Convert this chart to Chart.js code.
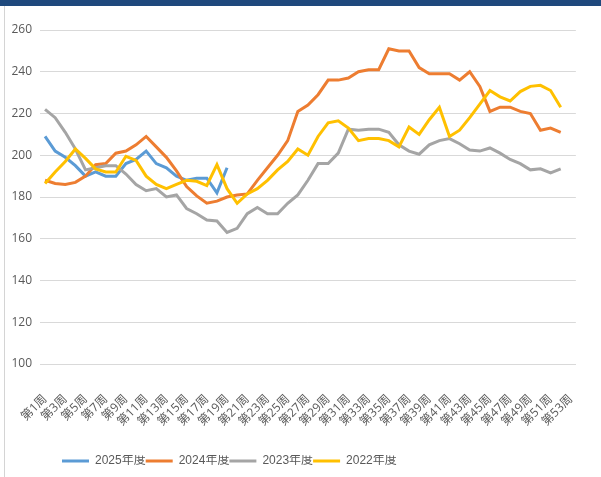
<!DOCTYPE html>
<html>
<head>
<meta charset="utf-8">
<script src="https://cdn.jsdelivr.net/npm/chart.js@4"></script>
<style>
    html, body { margin: 0; padding: 0; background: #fff; }
    #wrap { position: relative; width: 601px; height: 477px; }
    #topbar { position: absolute; left: 0; top: 0; width: 601px; height: 6px; background: #1f497d; }
    #edge { position: absolute; left: 4px; top: 6px; width: 1px; height: 471px; background: #d4d4d4; }
    canvas { position: absolute; left: 0; top: 0; }
</style>
</head>
<body>
<div id="wrap">
    <canvas id="chart" width="601" height="477"></canvas>
    <div id="topbar"></div>
    <div id="edge"></div>
</div>
<script>
// ── Data ────────────────────────────────────────────────
const weeks = Array.from({ length: 53 }, (_, i) => `第${i + 1}周`);
const yTicks = [100, 120, 140, 160, 180, 200, 220, 240, 260];

const seriesNames = ['2025年度', '2024年度', '2023年度', '2022年度'];
const seriesColors = ['#5b9bd5', '#ed7d31', '#a5a5a5', '#ffc000'];

const y2025 = [209, 202, 199, 195, 190, 192, 190, 190, 196, 198,
               202, 196, 194, 190, 188, 189, 189, 182, 194];
const y2024 = [188, 186.5, 186, 187, 190, 195.5, 196, 201, 202, 205,
               209, 204, 199, 192.5, 185, 180.5, 177, 178, 180, 181,
               181.5, 188, 194, 200, 207, 221, 224, 229, 236, 236,
               237, 240, 241, 241, 251, 250, 250, 242, 239, 239,
               239, 236, 240, 233, 221, 223, 223, 221, 220, 212,
               213, 211];
const y2023 = [222, 218, 211, 203, 193, 194, 195, 195, 191, 186,
               183, 184, 180, 181, 174.5, 172, 169, 168.5, 163, 165,
               172, 175, 172, 172, 177, 181, 188, 196, 196, 201,
               212.5, 212, 212.5, 212.5, 211, 205, 202, 200.5, 205, 207,
               208, 205.5, 202.5, 202, 203.5, 201, 198, 196, 193, 193.5,
               191.5, 193.5];
const y2022 = [186.5, 192, 197, 203, 198.5, 193.5, 192, 192, 199.5, 197.5,
               190, 186, 184, 186, 188, 187.5, 185.5, 195.5, 184, 177,
               181.5, 184, 188, 193, 197, 203, 200, 209, 215.5, 216.5,
               213, 207, 208, 208, 207, 204, 213.5, 210, 217, 223,
               209, 212, 218, 224.5, 231, 228, 226, 230.5, 233, 233.5,
               231, 223];

const seriesValues = [y2025, y2024, y2023, y2022];

// ── Chart ───────────────────────────────────────────────
const FONT = "'Open Sans', 'Noto Sans CJK SC', sans-serif";
const LEGEND_FONT = "'Liberation Sans', 'Noto Sans CJK SC', sans-serif";
const TEXT = '#595959';
const GRID = '#d9d9d9';

// push the legend to the left like the original
const legendShift = {
    id: 'legendShift',
    afterLayout(chart) {
        chart.legend.left = 62;
    }
};

new Chart(document.getElementById('chart'), {
    type: 'line',
    data: {
        labels: weeks,
        datasets: seriesNames.map((name, i) => ({
            label: name,
            data: seriesValues[i],
            borderColor: seriesColors[i],
            backgroundColor: seriesColors[i],
            borderWidth: 3,
            pointRadius: 0,
            tension: 0,
            fill: false,
            order: 3 - i   // later series on top, as in Excel
        }))
    },
    options: {
        responsive: false,
        animation: false,
        layout: { padding: { top: 30, right: 1, bottom: 0, left: 0 } },
        plugins: {
            tooltip: { enabled: false },
            legend: {
                position: 'bottom',
                align: 'start',
                labels: {
                    usePointStyle: true,
                    pointStyle: 'line',
                    pointStyleWidth: 27,
                    padding: 0,
                    color: TEXT,
                    font: { family: LEGEND_FONT, size: 12 },
                    sort: (a, b) => a.datasetIndex - b.datasetIndex
                }
            }
        },
        scales: {
            x: {
                offset: true,
                grid: { display: false },
                border: { color: GRID },
                ticks: {
                    autoSkip: false,
                    minRotation: 45,
                    maxRotation: 45,
                    padding: 20,
                    color: TEXT,
                    font: { family: FONT, size: 12 },
                    callback: (v, i) => (i % 2 === 0 ? weeks[i] : '')
                },
                afterFit(scale) { scale.height = 91; }
            },
            y: {
                min: 100,
                max: 260,
                afterBuildTicks(scale) { scale.ticks = yTicks.map(v => ({ value: v })); },
                grid: { color: GRID, drawTicks: false },
                border: { display: false },
                ticks: {
                    padding: 8,
                    color: TEXT,
                    font: { family: FONT, size: 12 }
                },
                afterFit(scale) { scale.width = 40; }
            }
        }
    },
    plugins: [legendShift]
});
</script>
</body>
</html>
